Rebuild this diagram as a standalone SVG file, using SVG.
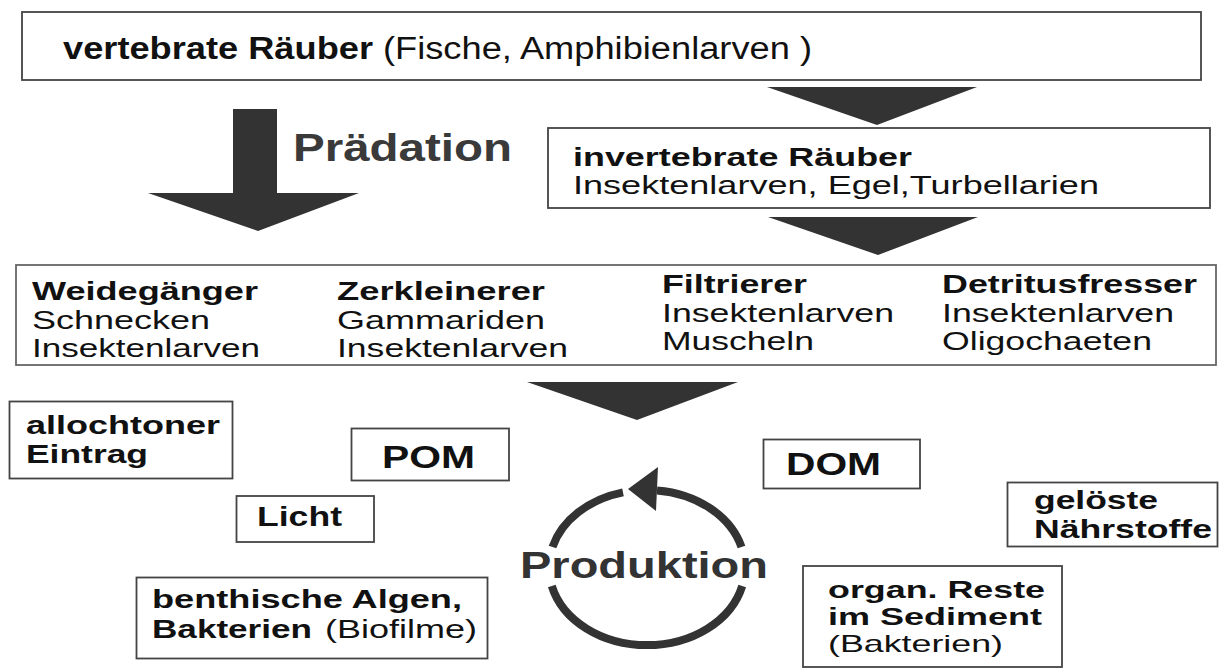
<svg xmlns="http://www.w3.org/2000/svg" width="1219" height="669" viewBox="0 0 1219 669">
<style>
  text { font-family: "Liberation Sans", Arial, sans-serif; fill: #111; }
  .b { font-weight: bold; }
  .box { fill: #fff; stroke: #444; stroke-width: 1.8; }
  .s26 { font-size: 26px; }
  .s24 { font-size: 24px; }
  .arrow { fill: #333; stroke: none; }
  .ring { fill: none; stroke: #333; stroke-width: 8; }
</style>
<rect width="1219" height="669" fill="#fff"/>

<g id="connectors">
  <polygon class="arrow" points="233,109 277,109 277,193 359,193 258,231 148,193 233,193"/>
  <polygon class="arrow" points="767,87 977,87 877,125"/>
  <polygon class="arrow" points="768,217 978,217 878,255"/>
  <polygon class="arrow" points="527,382 738,382 637,420"/>
</g>

<g id="praedation-label">
  <text class="b" x="293" y="161" font-size="39" style="fill:#3a3a3a" textLength="219" lengthAdjust="spacingAndGlyphs">Prädation</text>
</g>

<g id="vertebrate">
  <rect class="box" x="22" y="12" width="1179" height="68"/>
  <text class="b" x="63" y="58.5" font-size="31" textLength="310" lengthAdjust="spacingAndGlyphs">vertebrate Räuber</text>
  <text x="383" y="58.5" font-size="31" textLength="429" lengthAdjust="spacingAndGlyphs">(Fische, Amphibienlarven )</text>
</g>

<g id="invertebrate">
  <rect class="box" x="548" y="128" width="662" height="80"/>
  <text class="b s26" x="573" y="166" textLength="339" lengthAdjust="spacingAndGlyphs">invertebrate Räuber</text>
  <text class="s26" x="573" y="194" textLength="526" lengthAdjust="spacingAndGlyphs">Insektenlarven, Egel,Turbellarien</text>
</g>

<g id="konsumenten">
  <rect class="box" x="16" y="265" width="1200" height="100" style="stroke:#666"/>
  <text class="b s26" x="32" y="300" textLength="226" lengthAdjust="spacingAndGlyphs">Weidegänger</text>
  <text class="s26" x="32" y="329" textLength="178" lengthAdjust="spacingAndGlyphs">Schnecken</text>
  <text class="s26" x="32" y="357" textLength="228" lengthAdjust="spacingAndGlyphs">Insektenlarven</text>

  <text class="b s26" x="337" y="300" textLength="208" lengthAdjust="spacingAndGlyphs">Zerkleinerer</text>
  <text class="s26" x="337" y="329" textLength="208" lengthAdjust="spacingAndGlyphs">Gammariden</text>
  <text class="s26" x="337" y="357" textLength="231" lengthAdjust="spacingAndGlyphs">Insektenlarven</text>

  <text class="b s26" x="662" y="293" textLength="145" lengthAdjust="spacingAndGlyphs">Filtrierer</text>
  <text class="s26" x="662" y="322" textLength="232" lengthAdjust="spacingAndGlyphs">Insektenlarven</text>
  <text class="s26" x="662" y="350" textLength="152" lengthAdjust="spacingAndGlyphs">Muscheln</text>

  <text class="b s26" x="942" y="293" textLength="255" lengthAdjust="spacingAndGlyphs">Detritusfresser</text>
  <text class="s26" x="942" y="322" textLength="232" lengthAdjust="spacingAndGlyphs">Insektenlarven</text>
  <text class="s26" x="942" y="350" textLength="210" lengthAdjust="spacingAndGlyphs">Oligochaeten</text>
</g>

<g id="allochtoner">
  <rect class="box" x="9.5" y="401.5" width="223" height="77"/>
  <text class="b s26" x="26" y="434" textLength="194" lengthAdjust="spacingAndGlyphs">allochtoner</text>
  <text class="b s26" x="26" y="462.5" textLength="122" lengthAdjust="spacingAndGlyphs">Eintrag</text>
</g>

<g id="pom">
  <rect class="box" x="351.5" y="428.5" width="157.5" height="52"/>
  <text class="b" x="382" y="468" font-size="31" textLength="93" lengthAdjust="spacingAndGlyphs">POM</text>
</g>

<g id="licht">
  <rect class="box" x="236.5" y="496" width="137.5" height="46"/>
  <text class="b" x="257" y="526" font-size="27" textLength="85" lengthAdjust="spacingAndGlyphs">Licht</text>
</g>

<g id="benthische">
  <rect class="box" x="136.5" y="577.5" width="351" height="81"/>
  <text class="b s26" x="152" y="608" textLength="310" lengthAdjust="spacingAndGlyphs">benthische Algen,</text>
  <text class="b s26" x="152" y="638" textLength="160" lengthAdjust="spacingAndGlyphs">Bakterien</text>
  <text class="s26" x="325" y="638" textLength="152" lengthAdjust="spacingAndGlyphs">(Biofilme)</text>
</g>

<g id="dom">
  <rect class="box" x="763.5" y="439.5" width="156.5" height="49"/>
  <text class="b" x="786" y="475" font-size="31" textLength="95" lengthAdjust="spacingAndGlyphs">DOM</text>
</g>

<g id="geloeste">
  <rect class="box" x="1007.5" y="482.5" width="210" height="64"/>
  <text class="b s26" x="1034" y="509" textLength="124" lengthAdjust="spacingAndGlyphs">gelöste</text>
  <text class="b s26" x="1034" y="538" textLength="178" lengthAdjust="spacingAndGlyphs">Nährstoffe</text>
</g>

<g id="organ">
  <rect class="box" x="803" y="566" width="259" height="101"/>
  <text class="b s24" x="828" y="597.5" textLength="217" lengthAdjust="spacingAndGlyphs">organ. Reste</text>
  <text class="b s24" x="828" y="625" textLength="214" lengthAdjust="spacingAndGlyphs">im Sediment</text>
  <text class="s24" x="828" y="652" textLength="175" lengthAdjust="spacingAndGlyphs">(Bakterien)</text>
</g>

<g id="produktion">
  <path class="ring" d="M623,492.3 A98,77.5 0 0 0 552.5,547"/>
  <path class="ring" d="M657,490.4 A98,77.5 0 0 1 741.5,547"/>
  <path class="ring" d="M551.8,586 A98,77.5 0 0 0 742.2,586"/>
  <polygon class="arrow" points="628,489 658,467 656,511"/>
  <text class="b" x="520" y="578" font-size="36" style="fill:#333" textLength="248" lengthAdjust="spacingAndGlyphs">Produktion</text>
</g>
</svg>
